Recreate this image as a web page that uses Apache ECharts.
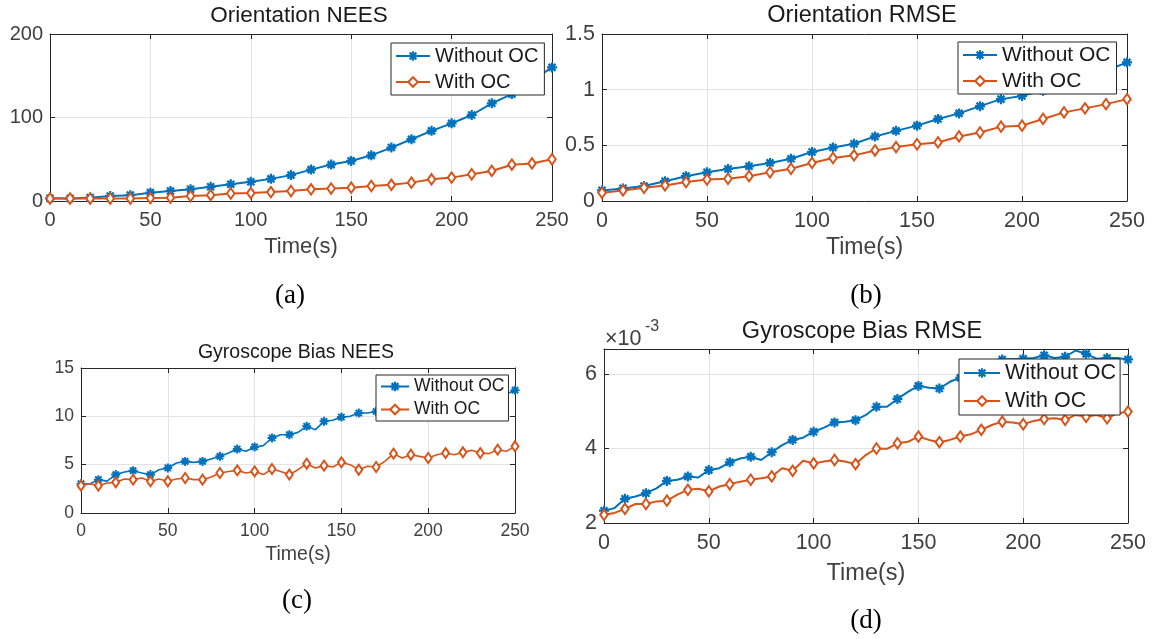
<!DOCTYPE html>
<html><head><meta charset="utf-8">
<script src="https://cdn.jsdelivr.net/npm/echarts@6/dist/echarts.min.js"></script>
<style>html,body{margin:0;padding:0;background:#fff}#c{width:1156px;height:639px}</style>
</head><body><div id="c"></div>
<script>
// ---------- data ----------
const timeCoarse = [0,10,20,30,40,50,60,70,80,90,100,110,120,130,140,150,160,170,180,190,200,210,220,230,240,250];
const timeFine = [0,5,10,15,20,25,30,35,40,45,50,55,60,65,70,75,80,85,90,95,100,105,110,115,120,125,130,135,140,145,150,155,160,165,170,175,180,185,190,195,200,205,210,215,220,225,230,235,240,245,250];
const xTicks = [0,50,100,150,200,250];
const legendNames = ['Without OC','With OC'];

// (a) Orientation NEES
const oriNeesWithout = [3.2,3,4,6,7,10,12,14,17,20,23,26.5,31,37.6,43.6,48,54.7,64,74,84,93,103,117,128,144,160];
const oriNeesWith    = [3,3,3,3,3,3.5,4,6,7,9,9.5,10.7,12,14,15,16,18,19.4,22,26,28,32,36,43.5,45,50];
// (b) Orientation RMSE
const oriRmseWithout = [0.095,0.113,0.134,0.178,0.223,0.258,0.288,0.312,0.342,0.38,0.44,0.48,0.514,0.58,0.63,0.677,0.737,0.787,0.852,0.915,0.944,0.99,1.05,1.11,1.17,1.245];
const oriRmseWith    = [0.074,0.095,0.119,0.14,0.17,0.193,0.2,0.223,0.258,0.29,0.342,0.386,0.41,0.454,0.484,0.51,0.526,0.58,0.615,0.668,0.677,0.737,0.796,0.832,0.87,0.915];
// (c) Gyroscope Bias NEES
const gyroNeesWithout = [3.03,3.0,3.45,3.3,3.97,4.24,4.38,4.14,3.97,4.48,4.66,5.17,5.34,5.24,5.34,5.59,5.86,6.2,6.62,6.38,6.83,6.97,7.76,8.1,8.1,8.34,8.97,8.62,9.48,9.59,9.93,10.0,10.34,10.34,10.5,10.7,10.9,11.0,11.2,11.3,11.5,11.6,11.8,11.9,12.0,12.1,12.3,12.2,12.2,12.3,12.7];
const gyroNeesWith    = [2.83,3.03,2.83,3.1,3.17,3.52,3.45,3.62,3.28,3.52,3.28,3.52,3.62,3.45,3.45,3.72,4.14,4.3,4.41,4.14,4.3,3.97,4.55,4.3,3.97,4.48,5.1,4.66,4.9,4.76,5.24,5.0,4.48,4.83,4.76,5.34,6.14,5.69,6.03,5.86,5.69,6.03,6.2,6.03,6.28,6.48,6.2,6.14,6.55,6.38,6.9];
// (d) Gyroscope Bias RMSE (x10^-3)
const gyroRmseWithout = [2.33,2.4,2.65,2.71,2.8,2.93,3.13,3.16,3.25,3.22,3.42,3.47,3.63,3.73,3.78,3.69,3.9,4.09,4.23,4.29,4.45,4.56,4.7,4.72,4.76,4.9,5.12,5.12,5.33,5.52,5.68,5.63,5.61,5.79,5.9,6.0,6.15,6.3,6.39,6.4,6.41,6.43,6.5,6.43,6.46,6.63,6.54,6.41,6.43,6.43,6.39];
const gyroRmseWith    = [2.22,2.27,2.38,2.51,2.51,2.58,2.6,2.76,2.89,2.92,2.85,2.98,3.04,3.11,3.16,3.2,3.25,3.47,3.4,3.67,3.6,3.65,3.69,3.65,3.58,3.83,4.0,3.99,4.14,4.18,4.32,4.23,4.17,4.23,4.32,4.38,4.5,4.63,4.72,4.7,4.65,4.74,4.79,4.81,4.77,4.9,4.85,4.9,4.81,4.94,4.99];

// ---------- styling ----------
const BLUE = '#0072BD', ORANGE = '#D95319';
const AX = '#262626', TICKTXT = '#404040', GRIDC = '#e3e3e3';
const FONT = '"Liberation Sans", Arial, sans-serif';
const STAR = 'path://M0 7.75L20 7.75L20 12.25L0 12.25Z M7.75 0L12.25 0L12.25 20L7.75 20Z M1.4 4.6L4.6 1.4L18.6 15.4L15.4 18.6Z M15.4 1.4L18.6 4.6L4.6 18.6L1.4 15.4Z';

const panels = [
  {grid:{left:50,top:34,width:502,height:167}, ymin:0,ymax:200,yint:100, tick:20, nameF:22, nameGap:35, lw:2,
   t:timeCoarse, a:oriNeesWithout, b:oriNeesWith, every:1, star:10, dia:[7.5,10.5],
   leg:{left:391,top:43,font:20,lh:24,iw:34,pad:[1,6,1,4]}},
  {grid:{left:602,top:34,width:525,height:167}, ymin:0,ymax:1.5,yint:0.5, tick:21.5, nameF:23, nameGap:35, lw:2,
   t:timeCoarse, a:oriRmseWithout, b:oriRmseWith, every:1, star:10, dia:[7.5,10.5],
   leg:{left:958,top:42,font:21,lh:24,iw:34,pad:[1,6,1,4]}},
  {grid:{left:81,top:368,width:434,height:145}, ymin:0,ymax:15,yint:5, tick:17.5, nameF:19.5, nameGap:32, lw:1.6,
   t:timeFine, a:gyroNeesWithout, b:gyroNeesWith, every:2, star:9, dia:[7,10],
   leg:{left:376,top:375,font:17.5,lh:21,iw:28,pad:[1,4,1,4]}},
  {grid:{left:604,top:349,width:524,height:174}, ymin:2,ymax:6.67,yint:2, tick:21.5, nameF:23.5, nameGap:39, lw:2,
   t:timeFine, a:gyroRmseWithout, b:gyroRmseWith, every:2, star:10, dia:[7.5,10.5], hideMax:true,
   leg:{left:959,top:359,font:21.5,lh:26,iw:36,pad:[1,4,1,4]}}
];

function mkData(times, vals, every){
  return times.map((t,i)=> (i % every === 0) ? [t, vals[i]] : {value:[t, vals[i]], symbol:'none'});
}

const grids=[], xAxes=[], yAxes=[], series=[], legends=[];
panels.forEach((p,i)=>{
  grids.push(Object.assign({containLabel:false}, p.grid));
  const base = {gridIndex:i, min:0, max:250, interval:50, type:'value',
    axisLine:{show:true,onZero:false,lineStyle:{color:AX,width:1}},
    axisTick:{show:true,inside:true,length:5,lineStyle:{color:AX}}};
  xAxes.push(Object.assign({}, base, {position:'bottom',
    axisLabel:{fontSize:p.tick,color:TICKTXT,fontFamily:FONT,margin:9},
    splitLine:{show:true,lineStyle:{color:GRIDC,width:1}},
    name:'Time(s)', nameLocation:'middle', nameGap:p.nameGap,
    nameTextStyle:{fontSize:p.nameF,color:TICKTXT,fontFamily:FONT}}));
  xAxes.push(Object.assign({}, base, {position:'top', axisLabel:{show:false}, splitLine:{show:false}}));
  const ybase = {gridIndex:i, type:'value', min:p.ymin, max:p.ymax, interval:p.yint,
    axisLine:{show:true,onZero:false,lineStyle:{color:AX,width:1}},
    axisTick:{show:true,inside:true,length:5,lineStyle:{color:AX}}};
  yAxes.push(Object.assign({}, ybase, {position:'left',
    axisLabel:{fontSize:p.tick,color:TICKTXT,fontFamily:FONT,margin:7,showMaxLabel:!p.hideMax},
    splitLine:{show:true,lineStyle:{color:GRIDC,width:1}}}));
  yAxes.push(Object.assign({}, ybase, {position:'right', axisLabel:{show:false}, splitLine:{show:false}}));
  series.push({type:'line', name:legendNames[0], xAxisIndex:2*i, yAxisIndex:2*i,
    data:mkData(p.t,p.a,p.every), symbol:STAR, symbolSize:p.star, showAllSymbol:true,
    color:BLUE, lineStyle:{width:p.lw,color:BLUE}, itemStyle:{color:BLUE}, z:3});
  series.push({type:'line', name:legendNames[1], xAxisIndex:2*i, yAxisIndex:2*i,
    data:mkData(p.t,p.b,p.every), symbol:'emptyDiamond', symbolSize:p.dia, showAllSymbol:true,
    color:ORANGE, lineStyle:{width:p.lw,color:ORANGE}, itemStyle:{color:ORANGE,borderWidth:1.6}, z:4});
  legends.push({show:true, orient:'vertical', left:p.leg.left, top:p.leg.top, data:legendNames,
    selectedMode:false, backgroundColor:'#fff', borderColor:AX, borderWidth:1, borderRadius:0,
    padding:p.leg.pad, itemGap:2, itemWidth:p.leg.iw, itemHeight:12,
    textStyle:{fontSize:p.leg.font,color:'#1a1a1a',fontFamily:FONT,lineHeight:p.leg.lh}, z:10});
});

function txt(s,x,y,size,opts){
  return {type:'text', x:x, y:y, z:20, style:Object.assign({text:s, fontSize:size, fontFamily:FONT, fill:'#1a1a1a', align:'center', verticalAlign:'middle'}, opts||{})};
}
const SERIF = '"Liberation Serif", "Times New Roman", serif';
const graphics = [
  txt('Orientation NEES', 299, 16, 22.5),
  txt('Orientation RMSE', 862, 16, 23.5),
  txt('Gyroscope Bias NEES', 296, 353, 19.5),
  txt('Gyroscope Bias RMSE', 862, 332, 23.5),
  txt('(a)', 290, 296, 27, {fontFamily:SERIF, fill:'#000'}),
  txt('(b)', 866, 296, 27, {fontFamily:SERIF, fill:'#000'}),
  txt('(c)', 297, 601, 27, {fontFamily:SERIF, fill:'#000'}),
  txt('(d)', 866, 621, 27, {fontFamily:SERIF, fill:'#000'}),
  txt('\u00d710', 605, 339, 21.5, {align:'left', fill:TICKTXT}),
  txt('-3', 645, 327, 16, {align:'left', fill:TICKTXT})
];

const chart = echarts.init(document.getElementById('c'), null, {renderer:'canvas'});
chart.setOption({
  animation:false, backgroundColor:'#fff',
  grid:grids, xAxis:xAxes, yAxis:yAxes, series:series, legend:legends, graphic:graphics
});
</script></body></html>
